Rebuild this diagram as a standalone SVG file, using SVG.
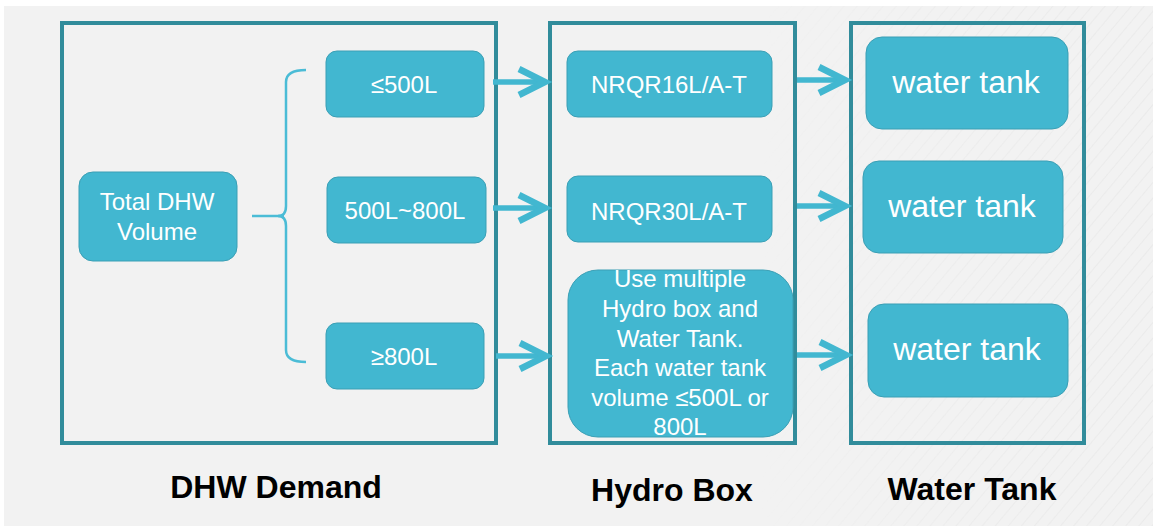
<svg xmlns="http://www.w3.org/2000/svg" width="1153" height="526" viewBox="0 0 1153 526">
  <style>
    .frame { fill: none; stroke: #318c9b; stroke-width: 4; }
    .node { fill: #42b7d0; stroke: #3a9fb5; stroke-width: 1; }
    .t { font-family: "Liberation Sans", Arial, sans-serif; fill: #ffffff; text-anchor: middle; font-size: 24px; }
    .big { font-size: 32px; }
    .lbl { font-family: "Liberation Sans", Arial, sans-serif; fill: #000000; font-weight: bold; font-size: 32px; text-anchor: middle; }
    .arrow { fill: none; stroke: #42b7d0; stroke-width: 5.5; marker-end: url(#chev); }
    .brace { fill: none; stroke: #4bbcd6; stroke-width: 2.5; }
  </style>
  <defs>
    <marker id="chev" markerUnits="userSpaceOnUse" viewBox="0 0 34 34" markerWidth="34" markerHeight="34" refX="30" refY="17" orient="auto" overflow="visible">
      <path d="M4,4 L30,17 L4,30" fill="none" stroke="#42b7d0" stroke-width="6.5" stroke-linejoin="miter"/>
    </marker>
    <pattern id="hatch" width="10" height="10" patternUnits="userSpaceOnUse" patternTransform="rotate(40)">
      <line x1="0" y1="0" x2="0" y2="10" stroke="#e3e3e3" stroke-width="1"/>
    </pattern>
    <linearGradient id="fade" x1="0" y1="0" x2="1" y2="0">
      <stop offset="0" stop-color="#fff" stop-opacity="0"/>
      <stop offset="0.5" stop-color="#fff" stop-opacity="0.7"/>
      <stop offset="1" stop-color="#fff" stop-opacity="1"/>
    </linearGradient>
    <mask id="hmask">
      <rect x="760" y="6" width="393" height="520" fill="url(#fade)"/>
    </mask>
  </defs>

  <rect x="0" y="0" width="1153" height="526" fill="#ffffff"/>
  <rect x="4" y="6" width="1149" height="520" fill="#f2f2f2"/>
  <rect x="760" y="6" width="393" height="520" fill="url(#hatch)" mask="url(#hmask)"/>

  <g id="frame-dhw-demand"><rect class="frame" x="62" y="23" width="434" height="420"/></g>
  <g id="frame-hydro-box"><rect class="frame" x="550" y="23" width="245" height="420"/></g>
  <g id="frame-water-tank"><rect class="frame" x="851" y="23" width="233" height="420"/></g>

  <g id="connectors">
    <path class="brace" d="M306,70 Q286,70 286,82 L286,206 Q286,216 278,216 Q286,216 286,226 L286,350 Q286,362 306,362"/>
    <path class="brace" d="M252,216 L284,216"/>
    <path class="arrow" d="M493,82 L545,82"/>
    <path class="arrow" d="M493,208 L545,208"/>
    <path class="arrow" d="M496,356 L546,356"/>
    <path class="arrow" d="M797,80 L845,80"/>
    <path class="arrow" d="M797,206 L845,206"/>
    <path class="arrow" d="M797,355 L846,355"/>
  </g>

  <g id="node-total">
    <rect class="node" x="79" y="172" width="158" height="89" rx="14"/>
    <text class="t" x="157" y="210">Total DHW</text>
    <text class="t" x="157" y="240">Volume</text>
  </g>
  <g id="node-le500">
    <rect class="node" x="326" y="51" width="158" height="66" rx="11"/>
    <text class="t" x="404" y="93">≤500L</text>
  </g>
  <g id="node-500-800">
    <rect class="node" x="327" y="177" width="159" height="66" rx="11"/>
    <text class="t" x="405" y="219">500L~800L</text>
  </g>
  <g id="node-ge800">
    <rect class="node" x="326" y="323" width="158" height="66" rx="11"/>
    <text class="t" x="404" y="365">≥800L</text>
  </g>

  <g id="node-nrqr16">
    <rect class="node" x="567" y="51" width="205" height="66" rx="11"/>
    <text class="t" x="669" y="93">NRQR16L/A-T</text>
  </g>
  <g id="node-nrqr30">
    <rect class="node" x="567" y="176" width="205" height="66" rx="11"/>
    <text class="t" x="669" y="220">NRQR30L/A-T</text>
  </g>
  <g id="node-multiple">
    <rect class="node" x="568" y="270" width="225" height="167" rx="30"/>
    <text class="t" x="680" y="287">Use multiple</text>
    <text class="t" x="680" y="317">Hydro box and</text>
    <text class="t" x="680" y="347">Water Tank.</text>
    <text class="t" x="680" y="376">Each water tank</text>
    <text class="t" x="680" y="406">volume ≤500L or</text>
    <text class="t" x="680" y="435">800L</text>
  </g>

  <g id="node-tank1">
    <rect class="node" x="866" y="37" width="202" height="92" rx="16"/>
    <text class="t big" x="966" y="93">water tank</text>
  </g>
  <g id="node-tank2">
    <rect class="node" x="863" y="161" width="200" height="92" rx="16"/>
    <text class="t big" x="962" y="217">water tank</text>
  </g>
  <g id="node-tank3">
    <rect class="node" x="868" y="304" width="200" height="93" rx="16"/>
    <text class="t big" x="967" y="360">water tank</text>
  </g>

  <g id="labels">
    <text class="lbl" x="276" y="498">DHW Demand</text>
    <text class="lbl" x="672" y="501">Hydro Box</text>
    <text class="lbl" x="972" y="500">Water Tank</text>
  </g>
</svg>
